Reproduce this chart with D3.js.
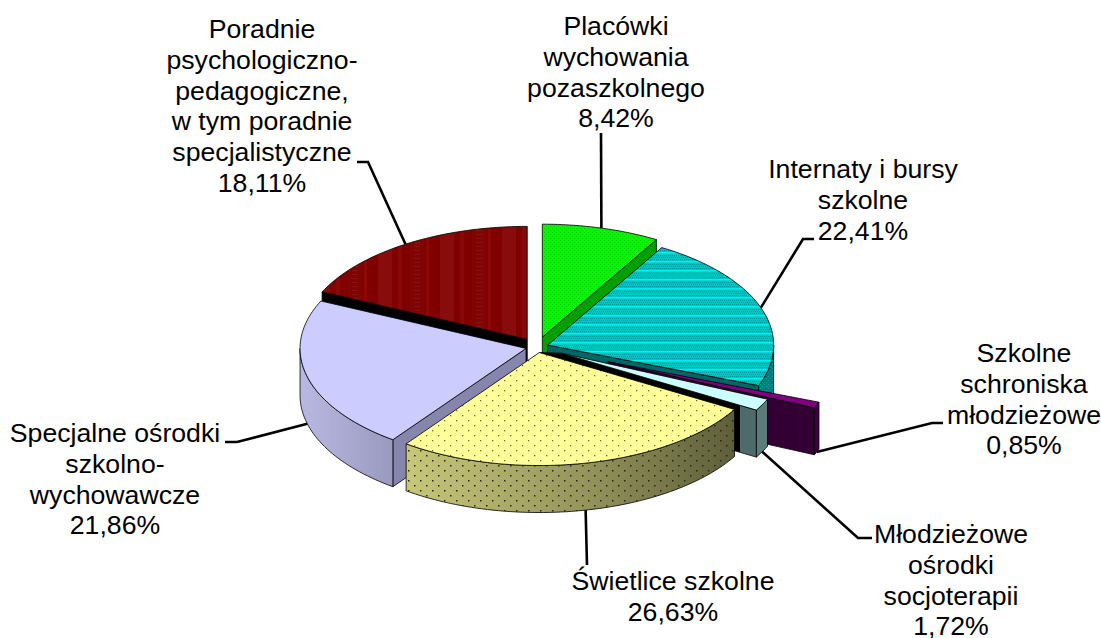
<!DOCTYPE html>
<html>
<head>
<meta charset="utf-8">
<style>
  html, body { margin: 0; padding: 0; background: #fff; }
  text { font-family: "Liberation Sans", Arial, sans-serif; font-size: 26.67px; fill: #000; }
</style>
<script src="https://cdn.jsdelivr.net/npm/d3@7"></script>
</head>
<body>
<div id="chart"></div>
<script>
// values in drawing order, clockwise from 12 o'clock
var categories = [
    ["Placówki", "wychowania", "pozaszkolnego"],
    ["Internaty i bursy", "szkolne"],
    ["Szkolne", "schroniska", "młodzieżowe"],
    ["Młodzieżowe", "ośrodki", "socjoterapii"],
    ["Świetlice szkolne"],
    ["Specjalne ośrodki", "szkolno-", "wychowawcze"],
    ["Poradnie", "psychologiczno-", "pedagogiczne,", "w tym poradnie", "specjalistyczne"]
];
var values = [8.42, 22.41, 0.85, 1.72, 26.63, 21.86, 18.11];

// how far each slice is pulled out, as share of the radius
var explode = [0.09, 0.05, 0.34, 0.12, 0.05, 0.05, 0.08];

var topFills = ["url(#pGreen)", "url(#pCyan)", "#800080", "#ccffff", "url(#pYellow)", "#ccccff", "url(#pRed)"];
var cutFills = ["#00a000", "#006666", "#330033", "url(#mintCut)", "#000", "#8686ac", "#000"];
var wallFills = ["#00a000", "url(#pTeal)", "#400040", "#5c7c7c", "url(#yellowWall)", "url(#lavWall)", "#000"];

// label centre, first baseline, and leader bend points
var labelX = [616, 863, 1024, 951, 673, 115, 262];
var labelY = [35, 178, 362, 543, 590, 442, 38];
var leaderBends = [
    [[601, 133]],
    [[803, 239], [814, 239]],
    [[932, 423], [943, 423]],
    [[858, 538], [872, 538]],
    [[587, 565]],
    [[237, 442], [225, 442]],
    [[368, 162], [357, 162]]
];

var width = 1101, height = 638;
var cx = 537, cy = 347, rx = 226, ry = 113, depth = 47;
var lineHeight = 30.8;

var svg = d3.select("#chart").append("svg")
    .attr("width", width)
    .attr("height", height)
    .style("display", "block");

var defs = svg.append("defs");

function gradient(id, stops) {
    var g = defs.append("linearGradient").attr("id", id);
    stops.forEach(function (s) {
        g.append("stop").attr("offset", s[0]).attr("stop-color", s[1]);
    });
}
gradient("yellowWall", [[0, "#c8c878"], [0.55, "#94945c"], [1, "#5e5e3a"]]);
gradient("lavWall", [[0, "#b8b8e2"], [1, "#9a9ac0"]]);

// mint cut face is black until the tip of the yellow slice
defs.append("linearGradient").attr("id", "mintCut")
    .attr("gradientUnits", "userSpaceOnUse")
    .attr("x1", 737).attr("x2", 758).attr("y1", 0).attr("y2", 0)
    .call(function (g) {
        g.append("stop").attr("offset", 0.15).attr("stop-color", "#000");
        g.append("stop").attr("offset", 0.15).attr("stop-color", "#4f6a6a");
    });

function pattern(id, w, h, base, dots) {
    var p = defs.append("pattern").attr("id", id)
        .attr("patternUnits", "userSpaceOnUse")
        .attr("width", w).attr("height", h);
    if (base) p.append("rect").attr("width", w).attr("height", h).attr("fill", base);
    dots.forEach(function (d) {
        p.append("rect").attr("x", d[0]).attr("y", d[1])
            .attr("width", d[2]).attr("height", d[3]).attr("fill", d[4]);
    });
}
pattern("pGreen", 4, 4, "#00f800", [[0, 0, 1, 1, "#00d400"], [2, 2, 1, 1, "#00d400"]]);
pattern("pYellow", 12, 10, "#ffff99", [[0, 0, 1.3, 1.3, "#6a6a40"], [6, 5, 1.3, 1.3, "#6a6a40"]]);
pattern("pDots", 12, 10, null, [[0, 0, 1.5, 1.5, "#26260f"], [6, 5, 1.5, 1.5, "#26260f"]]);
pattern("pCyan", 4, 9, "#00c4c4", [
    [0, 0, 4, 1, "#00f0f0"], [0, 1, 4, 1, "#00d8d8"],
    [0, 3, 1, 1, "#009c9c"], [2, 3, 1, 1, "#009c9c"],
    [1, 5, 1, 1, "#009c9c"], [3, 5, 1, 1, "#009c9c"],
    [0, 7, 1, 1, "#009c9c"], [2, 7, 1, 1, "#009c9c"]
]);
pattern("pTeal", 4, 4, "#007a7a", [[0, 0, 1, 1, "#00a0a0"], [2, 2, 1, 1, "#00a0a0"]]);
pattern("pRed", 62, 4, "#800000", [
    [6, 0, 14, 4, "#880c0c"],
    [26, 0, 4, 4, "#860808"],
    [38, 0, 14, 4, "#7f0404"], [42, 2, 6, 1, "#8c1212"],
    [54, 0, 3, 4, "#8e0808"]
]);

// unit circle to screen
var x = d3.scaleLinear().domain([-1, 1]).range([cx - rx, cx + rx]);
var y = d3.scaleLinear().domain([-1, 1]).range([cy - ry, cy + ry]);
var line = d3.line().x(function (d) { return d[0]; }).y(function (d) { return d[1]; });

var pie = d3.pie().sort(null)(values);
var fmt = d3.formatLocale({ decimal: ",", thousands: " ", grouping: [3], currency: ["", ""] }).format(".2f");

function rim(s, a, dy) {
    var mid = (s.startAngle + s.endAngle) / 2;
    var e = explode[s.index];
    return [
        x(Math.sin(a) + e * Math.sin(mid)),
        y(-Math.cos(a) - e * Math.cos(mid)) + (dy || 0)
    ];
}
function apex(s, dy) {
    var mid = (s.startAngle + s.endAngle) / 2;
    var e = explode[s.index];
    return [x(e * Math.sin(mid)), y(-e * Math.cos(mid)) + (dy || 0)];
}
function arcPoints(s, a0, a1, dy) {
    var n = Math.max(2, Math.ceil((a1 - a0) * 40));
    return d3.range(n + 1).map(function (i) { return rim(s, a0 + (a1 - a0) * i / n, dy); });
}

var g = svg.append("g");

function face(points, fill) {
    return g.append("path")
        .attr("d", line(points) + "Z")
        .attr("fill", fill)
        .attr("stroke", "#000")
        .attr("stroke-width", 0.8)
        .attr("stroke-linejoin", "round");
}

// back slices first, then to the front
var order = [6, 0, 1, 2, 3, 5, 4];
order.forEach(function (i) {
    var s = pie[i];
    var a0 = s.startAngle, a1 = s.endAngle;
    var half = Math.PI / 2;

    // black sliver that runs on to the centre above the yellow slice
    if (i === 4) {
        face([apex(s), apex(pie[3]), rim(s, a0 + 0.1)], "#000");
    }

    // cut faces that look towards the viewer
    [[a0, a0 - half], [a1, a1 + half]].forEach(function (c) {
        if (-Math.cos(c[1]) > 0.02) {
            face([apex(s), rim(s, c[0]), rim(s, c[0], depth), apex(s, depth)], cutFills[i]);
        }
    });

    // outer wall, front half only
    var w0 = Math.max(a0, half), w1 = Math.min(a1, half * 3);
    if (w1 > w0) {
        var wall = arcPoints(s, w0, w1).concat(arcPoints(s, w0, w1, depth).reverse());
        face(wall, wallFills[i]);
        if (i === 4) face(wall, "url(#pDots)").attr("stroke", "none");
    }

    face([apex(s)].concat(arcPoints(s, a0, a1)), topFills[i]);
});

// leader lines start on the rim at the middle of the slice
pie.forEach(function (s, i) {
    var mid = (s.startAngle + s.endAngle) / 2;
    var front = Math.cos(mid) < 0 ? depth : 0;
    svg.append("path")
        .attr("d", line([rim(s, mid, front)].concat(leaderBends[i])))
        .attr("fill", "none")
        .attr("stroke", "#000")
        .attr("stroke-width", 2.6);
});

categories.forEach(function (lines, i) {
    var t = svg.append("text")
        .attr("text-anchor", "middle")
        .attr("y", labelY[i]);
    lines.concat(fmt(values[i]) + "%").forEach(function (l, j) {
        t.append("tspan")
            .attr("x", labelX[i])
            .attr("y", labelY[i] + j * lineHeight)
            .text(l);
    });
});
</script>
</body>
</html>
